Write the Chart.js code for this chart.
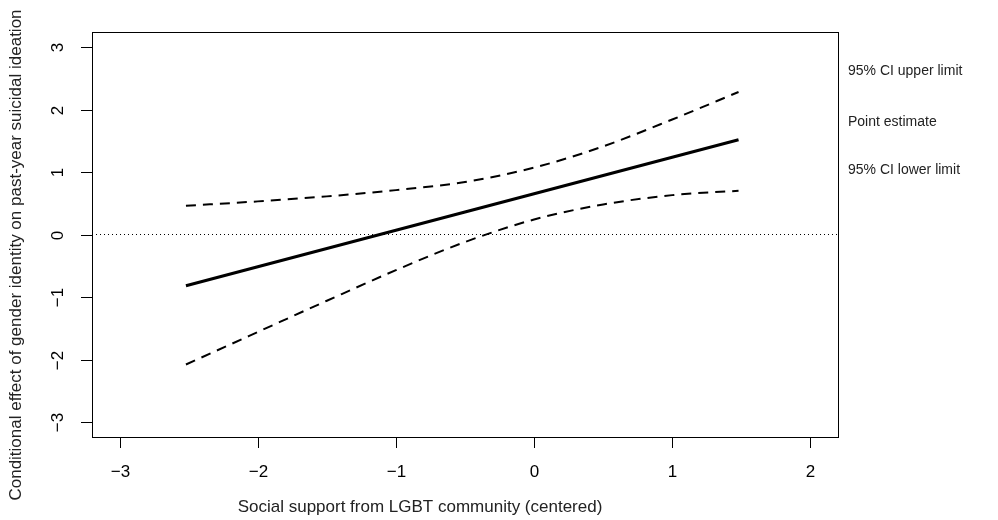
<!DOCTYPE html>
<html>
<head>
<meta charset="utf-8">
<script src="https://cdn.jsdelivr.net/npm/chart.js@4/dist/chart.umd.min.js"></script>
<style>
  html, body { margin: 0; padding: 0; background: #fff; }
  #wrap { position: relative; width: 998px; height: 520px; }
</style>
</head>
<body>
<div id="wrap"><canvas id="chart" width="998" height="520"></canvas></div>
<script>
// moderator values (centered social support)
const xValues = [-2.52, -2, -1.5, -1, -0.5, 0, 0.5, 1, 1.48];
// conditional effect
const pointEstimate = [-0.82, -0.516, -0.224, 0.068, 0.36, 0.652, 0.944, 1.236, 1.516];
const upperLimit = [0.46, 0.53, 0.61, 0.71, 0.84, 1.07, 1.41, 1.84, 2.28];
const lowerLimit = [-2.08, -1.56, -1.06, -0.57, -0.12, 0.24, 0.48, 0.63, 0.70];

const xTicks = [-3, -2, -1, 0, 1, 2];
const yTicks = [-3, -2, -1, 0, 1, 2, 3];
const xRange = [-3.2, 2.2];
const yRange = [-3.24, 3.24];
const refLine = [0, 0];

const sideLabels = ["95% CI upper limit", "Point estimate", "95% CI lower limit"];
const xTitle = "Social support from LGBT community (centered)";
const yTitle = "Conditional effect of gender identity on past-year suicidal ideation";

const FONT = '"Liberation Sans", Arial, Helvetica, sans-serif';

const toPoints = (xs, ys) => xs.map((x, i) => ({ x: x, y: ys[i] }));
const fmt = (v) => (v < 0 ? "\u2212" + Math.abs(v) : String(v));

// R-style box, ticks and texts drawn from the chart's own scales
const baseGraphics = {
  id: "baseGraphics",
  afterDraw(chart) {
    const { ctx, chartArea: a, scales } = chart;
    const sx = scales.x, sy = scales.y;
    ctx.save();
    ctx.strokeStyle = "#000";
    ctx.fillStyle = "#000";
    ctx.lineWidth = 1;

    // box
    ctx.strokeRect(a.left + 0.5, a.top + 0.5, a.right - a.left, a.bottom - a.top);

    // x axis
    ctx.font = "17px " + FONT;
    ctx.textAlign = "center";
    ctx.textBaseline = "middle";
    xTicks.forEach((v) => {
      const px = Math.round(sx.getPixelForValue(v)) + 0.5;
      ctx.beginPath();
      ctx.moveTo(px, a.bottom);
      ctx.lineTo(px, a.bottom + 11);
      ctx.stroke();
      ctx.fillText(fmt(v), px, a.bottom + 35);
    });

    // y axis
    yTicks.forEach((v) => {
      const py = Math.round(sy.getPixelForValue(v)) + 0.5;
      ctx.beginPath();
      ctx.moveTo(a.left, py);
      ctx.lineTo(a.left - 11, py);
      ctx.stroke();
      ctx.save();
      ctx.translate(a.left - 34, py);
      ctx.rotate(-Math.PI / 2);
      ctx.fillText(fmt(v), 0, 0);
      ctx.restore();
    });

    // titles
    ctx.fillStyle = "#222";
    ctx.fillText(xTitle, 420, 507);
    ctx.save();
    ctx.translate(16, 255);
    ctx.rotate(-Math.PI / 2);
    ctx.fillText(yTitle, 0, 0);
    ctx.restore();

    // labels on the right
    ctx.font = "14px " + FONT;
    ctx.textAlign = "left";
    const sideY = [71, 122, 170];
    sideLabels.forEach((t, i) => ctx.fillText(t, a.right + 10, sideY[i]));

    ctx.restore();
  }
};

new Chart(document.getElementById("chart"), {
  type: "line",
  data: {
    datasets: [
      {
        label: "zero",
        data: toPoints(xRange, refLine),
        borderColor: "#000",
        borderWidth: 1,
        borderDash: [1, 3],
        pointRadius: 0
      },
      {
        label: "Point estimate",
        data: toPoints(xValues, pointEstimate),
        borderColor: "#000",
        borderWidth: 3,
        pointRadius: 0
      },
      {
        label: "95% CI upper limit",
        data: toPoints(xValues, upperLimit),
        borderColor: "#000",
        borderWidth: 2,
        borderDash: [10, 7],
        cubicInterpolationMode: "monotone",
        pointRadius: 0
      },
      {
        label: "95% CI lower limit",
        data: toPoints(xValues, lowerLimit),
        borderColor: "#000",
        borderWidth: 2,
        borderDash: [10, 7],
        cubicInterpolationMode: "monotone",
        pointRadius: 0
      }
    ]
  },
  options: {
    responsive: false,
    animation: false,
    layout: { padding: { left: 92, top: 32, right: 160, bottom: 83 } },
    plugins: { legend: { display: false }, tooltip: { enabled: false } },
    scales: {
      x: { type: "linear", min: xRange[0], max: xRange[1], display: false },
      y: { type: "linear", min: yRange[0], max: yRange[1], display: false }
    }
  },
  plugins: [baseGraphics]
});
</script>
</body>
</html>
